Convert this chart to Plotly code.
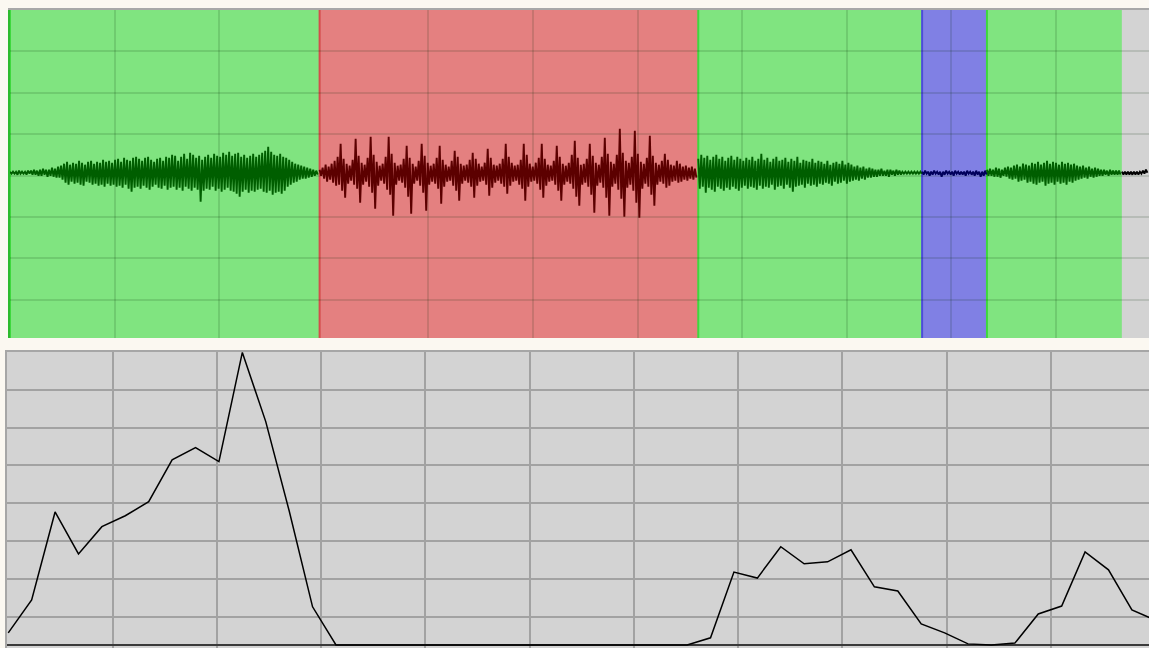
import plotly.graph_objects as go

# ---------------- data ----------------
# segmentation of the top panel (time units)
seg_start = [0.0, 2.96, 6.58, 8.72, 9.34, 10.63]
seg_end = [2.96, 6.58, 8.72, 9.34, 10.63, 10.95]
seg_class = ["speech", "music", "speech", "silence", "speech", "none"]

# waveform envelope per segment (upper / lower peak amplitude per column)
wave_hop = 0.0287
wave_upper = [
    [1, 1, 1, 2, 1, 1, 2,
     2, 3, 2, 3, 4, 3, 3, 5, 4, 6,
     7, 9, 11, 8, 10, 9, 12, 10, 8, 11, 12, 9, 11, 10, 13, 11, 12, 10,
     13, 14, 11, 15, 13, 12, 15, 16, 14, 12, 15, 16, 13, 11, 14, 15, 12, 16, 15, 18,
     17, 12, 16, 19, 14, 20, 18, 15, 17, 13, 16, 18, 15, 19, 17, 16, 20, 18, 21, 17,
     19, 20, 16, 18, 15, 17, 19, 16, 18, 20, 22, 26, 21, 18, 17, 19, 16, 15, 13,
     11, 9, 8, 7, 6, 5, 4, 3, 2],
    [3, 5, 8, 6, 9, 12, 16, 29, 14, 9, 7, 13, 34, 17, 10, 8, 15, 36, 18, 11,
     7, 9, 16, 36, 19, 10, 7, 8, 14, 27, 15, 9, 6, 12, 29, 17, 10, 7, 9, 15,
     27, 13, 8, 6, 12, 22, 16, 9, 7, 8, 13, 20, 14, 9, 6, 10, 24, 15, 8, 7,
     9, 14, 29, 16, 10, 7, 8, 13, 29, 18, 9, 6, 10, 15, 29, 14, 8, 7, 12, 27,
     16, 9, 7, 10, 18, 32, 15, 8, 9, 14, 29, 17, 10, 8, 16, 35, 19, 11, 9, 18,
     44, 20, 12, 10, 16, 42, 19, 11, 9, 15, 37, 17, 10, 8, 12, 19, 13, 8, 7, 12,
     9, 6, 7, 5, 6, 4],
    [14, 18, 15, 17, 13, 16, 18, 14, 16, 12, 15, 17, 13, 16, 14, 12, 15, 13,
     16, 12, 14, 19, 13, 15, 11, 14, 16, 12, 13, 15, 11, 14, 12, 16, 10, 13, 12, 11, 14, 10, 12,
     11, 9, 12, 8, 10, 11, 9, 12, 8, 10,
     8, 6, 7, 5, 6, 4, 5,
     4, 3, 3, 4, 2, 3, 3, 2, 3, 2,
     1, 1, 1, 1, 1, 1, 1],
    [1, 2, 1, 1, 2, 1, 1, 1, 2, 1, 1, 2, 1, 1, 1, 2, 1, 1, 2, 1, 1, 2],
    [3, 4, 3, 5, 4, 3, 5, 6, 5, 7, 8, 6, 9, 8, 7, 10, 9, 11, 8, 10,
     12, 9, 11, 10, 8, 11, 9, 10, 8, 9, 7, 6, 7, 5, 6, 4, 5, 4, 3, 3,
     2, 3, 2, 2, 2],
    [1, 1, 1, 1, 1, 1, 1, 2, 3],
]
wave_lower = [
    [1, 1, 2, 1, 1, 2, 1,
     2, 2, 3, 3, 2, 4, 3, 4, 5, 5,
     7, 10, 12, 9, 11, 10, 12, 13, 9, 10, 12, 11, 13, 12, 14, 11, 13, 12,
     14, 13, 15, 12, 16, 19, 15, 14, 16, 13, 15, 17, 14, 12, 15, 16, 13, 17, 15, 14,
     17, 15, 18, 14, 16, 18, 15, 17, 29, 18, 16, 17, 14, 18, 16, 19, 17, 15, 18, 19,
     21, 24, 19, 17, 20, 18, 19, 17, 16, 19, 20, 18, 22, 20, 19, 21, 18, 14, 12,
     10, 9, 7, 6, 6, 5, 4, 3, 2],
    [3, 6, 9, 7, 10, 13, 12, 18, 25, 11, 8, 12, 16, 30, 12, 9, 14, 20, 36, 13,
     8, 11, 17, 22, 43, 12, 8, 10, 15, 24, 41, 11, 8, 13, 20, 38, 12, 9, 11, 16,
     31, 14, 9, 8, 13, 18, 28, 11, 8, 10, 14, 25, 13, 9, 8, 12, 23, 15, 10, 8,
     11, 14, 21, 13, 9, 8, 12, 16, 28, 14, 9, 8, 11, 17, 25, 13, 9, 8, 12, 18,
     28, 12, 9, 11, 16, 24, 33, 12, 10, 14, 22, 40, 13, 10, 15, 25, 43, 14, 11, 17,
     26, 44, 15, 12, 18, 30, 45, 16, 11, 14, 22, 33, 12, 9, 11, 15, 13, 9, 8, 10,
     9, 7, 8, 6, 7, 5],
    [16, 14, 20, 15, 17, 19, 14, 16, 18, 15, 17, 14, 16, 18, 15, 13, 16, 14,
     15, 17, 13, 16, 14, 15, 12, 17, 14, 13, 16, 12, 15, 19, 14, 13, 12, 15, 11, 13, 12, 14, 11,
     12, 10, 11, 13, 9, 11, 10, 8, 11, 9,
     8, 7, 8, 6, 7, 5, 5,
     4, 4, 3, 3, 3, 4, 2, 3, 2, 2,
     1, 1, 1, 1, 1, 1, 1],
    [2, 1, 3, 2, 1, 2, 4, 2, 1, 2, 3, 1, 2, 2, 3, 1, 2, 3, 2, 4, 3, 2],
    [3, 3, 4, 4, 5, 3, 4, 6, 7, 6, 9, 8, 7, 10, 9, 11, 12, 10, 9, 13,
     11, 10, 12, 9, 11, 10, 12, 9, 10, 8, 7, 6, 5, 6, 4, 5, 4, 3, 3, 2,
     3, 2, 2, 2, 2],
    [2, 2, 2, 2, 2, 2, 1, 1, 0],
]
top_time_ticks = [1, 2, 4, 5, 6, 7, 8, 9, 10]

# feature curve (bottom panel)
feat_hop = 0.2245
feat_values = [0.32, 1.19, 3.52, 2.41, 3.13, 3.42, 3.79, 4.90, 5.22, 4.85,
               7.74, 5.91, 3.55, 1.01, 0, 0, 0, 0, 0, 0,
               0, 0, 0, 0, 0, 0, 0, 0, 0, 0,
               0.19, 1.93, 1.77, 2.60, 2.15, 2.20, 2.52, 1.54, 1.43, 0.56,
               0.32, 0.03, 0, 0.05, 0.82, 1.03, 2.46, 1.99, 0.93, 0.66]
bottom_time_ticks = [1, 2, 3, 4, 5, 6, 7, 8, 9, 10]

# ---------------- styles ----------------
class_fill = {"speech": "#80E480", "music": "#E48080", "silence": "#8080E4", "none": "#D3D3D3"}
class_edge = {"speech": "#3ED83E", "music": "#D44C4C", "silence": "#4C4CDA", "none": "#D3D3D3"}
class_wave = {"speech": "#005E00", "music": "#5C0000", "silence": "#00005C", "none": "#000000"}

W, H = 1149, 648
fig = go.Figure()

shapes = []
for s, e, c in zip(seg_start, seg_end, seg_class):
    shapes.append(dict(type="rect", xref="x", yref="y domain", x0=s, x1=e, y0=0, y1=1,
                       fillcolor=class_fill[c], line=dict(width=0), layer="below"))
for s, c in zip(seg_start, seg_class):
    if c != "none":
        shapes.append(dict(type="line", xref="x", yref="y domain", x0=s, x1=s, y0=0, y1=1,
                           line=dict(color=class_edge[c], width=2), layer="below"))

for s, c, up, lo in zip(seg_start, seg_class, wave_upper, wave_lower):
    xs, ys = [], []
    for i, (u, l) in enumerate(zip(up, lo)):
        t = s + i * wave_hop
        xs += [t, t + wave_hop / 2]
        ys += [u, -l]
    fig.add_trace(go.Scatter(x=xs, y=ys, mode="lines", xaxis="x", yaxis="y",
                             line=dict(color=class_wave[c], width=1.9),
                             hoverinfo="skip", showlegend=False))

fig.add_trace(go.Scatter(x=[k * feat_hop for k in range(len(feat_values))], y=feat_values,
                         mode="lines", xaxis="x2", yaxis="y2",
                         line=dict(color="#000000", width=1.5),
                         hoverinfo="skip", showlegend=False))

fig.update_layout(
    width=W, height=H,
    margin=dict(l=0, r=0, t=0, b=0),
    paper_bgcolor="#FBF8F1",
    plot_bgcolor="#D3D3D3",
    shapes=shapes,
    showlegend=False,
    xaxis=dict(domain=[10 / W, 1], range=[0, 10.889], tickvals=top_time_ticks,
               showticklabels=False, ticks="", showgrid=True,
               gridcolor="rgba(0,40,0,0.13)", gridwidth=1.5, zeroline=False,
               side="top", showline=True, linecolor="#A8A8A8", linewidth=2,
               anchor="y", fixedrange=True),
    yaxis=dict(domain=[1 - 338 / H, 1 - 10 / H], range=[-165.3, 162.7],
               tick0=-2.9, dtick=41.4, showticklabels=False, ticks="",
               showgrid=True, gridcolor="rgba(0,40,0,0.13)", gridwidth=1.5,
               zeroline=False, showline=True, linecolor="#2DBA2D", linewidth=2,
               anchor="x", fixedrange=True),
    xaxis2=dict(domain=[7 / W, 1], range=[-0.012, 10.94], tickvals=bottom_time_ticks,
                showticklabels=False, ticks="", showgrid=True,
                gridcolor="#A2A2A2", gridwidth=1.5, zeroline=False,
                side="top", showline=True, linecolor="#A6A6A6", linewidth=2,
                anchor="y2", fixedrange=True),
    yaxis2=dict(domain=[0, 1 - 352 / H], range=[-0.079, 7.751],
                tick0=0.751, dtick=1, showticklabels=False, ticks="",
                showgrid=True, gridcolor="#A2A2A2", gridwidth=1.5,
                zeroline=True, zerolinecolor="#3A3A3A", zerolinewidth=2,
                showline=True, linecolor="#A6A6A6", linewidth=2,
                anchor="x2", fixedrange=True),
)

fig.write_html("out.html", config={"displayModeBar": False},
               post_script="document.body.style.margin='0px';document.body.style.overflow='hidden';")
